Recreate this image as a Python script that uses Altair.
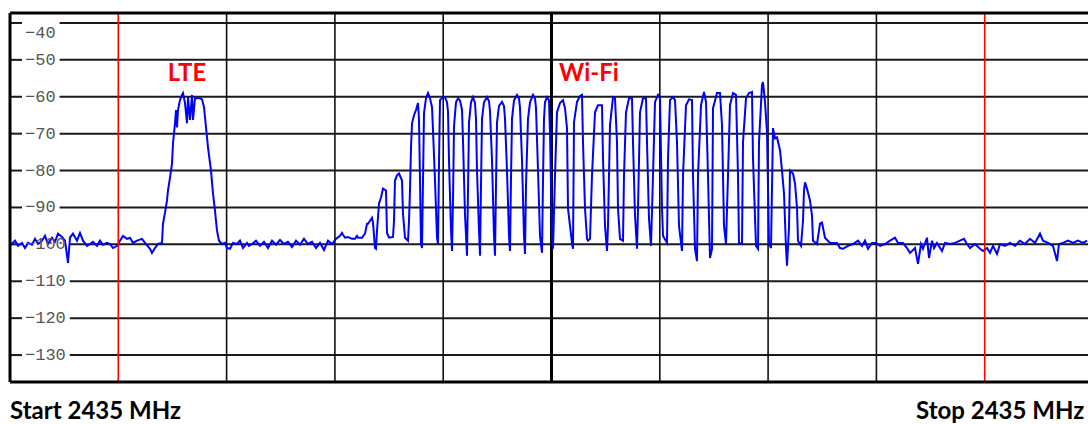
import altair as alt
import pandas as pd

# ---- trace pieces (sweep point index, level in dBm) ----
left_pt = [0, 2, 5, 8, 12, 15, 18, 22, 25, 28, 32, 35, 38, 42, 45, 48, 52, 55, 58, 60, 63, 67, 70, 73, 77, 80, 83, 87,
           90, 93, 97, 100, 103, 107, 110, 113, 117, 120, 123, 127, 132, 135, 140, 142, 145, 148, 152]
left_db = [-99.6, -99.9, -99.0, -100.4, -99.6, -101.0, -99.6, -100.1, -98.5, -99.9, -99.0, -97.7, -99.9, -98.2, -99.3,
           -97.1, -98.0, -99.0, -105.0, -98.2, -97.1, -99.0, -96.9, -99.0, -100.4, -99.9, -99.3, -100.4, -99.0, -100.1,
           -99.6, -99.9, -101.0, -100.4, -99.0, -97.7, -98.5, -98.2, -99.6, -99.0, -98.5, -99.6, -101.2, -102.3, -101.0,
           -99.9, -99.6]

lte_pt = [153, 155, 157, 158, 160, 162, 163, 165, 166, 167, 168, 170, 172, 173, 175, 177, 178, 180, 182, 183, 185, 187,
          190, 192, 194, 196, 198, 201, 203, 205, 207, 209, 212, 215, 217, 220, 223, 227, 230, 233, 237, 239]
lte_db = [-94.4, -91.4, -88.1, -85.4, -81.9, -78.1, -72.6, -67.2, -63.6, -68.3, -63.6, -60.9, -59.5, -59.0, -61.7, -67.2,
          -60.1, -66.3, -59.5, -66.3, -60.4, -60.4, -60.4, -60.7, -62.8, -68.3, -73.7, -80.0, -86.2, -90.9, -96.3, -99.0,
          -99.9, -99.6, -101.0, -101.2, -99.6, -99.9, -99.0, -101.0, -99.6, -100.4]

gap_pt = [242, 246, 250, 254, 258, 262, 266, 270, 274, 278, 282, 286, 290, 294, 298, 302, 306, 310, 314, 318, 322, 326]
gap_db = [-99.9, -99.0, -100.4, -99.3, -101.0, -99.0, -100.1, -98.8, -99.9, -99.3, -100.7, -99.0, -100.1, -98.5, -99.9,
          -99.3, -101.0, -99.6, -101.5, -99.0, -99.9, -98.5]

wifi_a_pt = [330, 332, 333, 335, 338, 342, 345, 347, 348, 352, 355, 357, 358, 362, 363, 365, 366, 367, 369, 371, 373,
             376, 377, 379, 383, 384, 385, 387, 389, 392, 393, 395, 398, 399, 400, 401, 402, 404, 406, 408, 409, 410,
             411, 412, 413, 414, 416, 418, 420, 422, 423, 425, 427, 428, 429, 430, 433]
wifi_a_db = [-97.7, -96.9, -97.4, -98.2, -98.0, -98.5, -98.5, -97.7, -98.2, -98.2, -97.1, -94.4, -94.4, -92.8, -94.1,
             -101.0, -101.2, -96.3, -88.9, -87.3, -84.9, -85.4, -96.9, -98.2, -98.0, -93.6, -82.7, -81.3, -80.8, -82.7,
             -91.7, -98.2, -99.0, -93.6, -85.4, -73.7, -67.2, -65.0, -63.6, -61.7, -66.3, -82.7, -99.9, -101.0, -82.7,
             -64.4, -60.4, -59.0, -60.4, -62.8, -69.1, -82.7, -98.2, -99.9, -78.1, -60.9, -60.1]

wifi_b_pt = [435, 437, 438, 439, 441, 442, 443, 444, 446, 448, 450, 452, 453, 455, 457, 458, 459, 461, 463, 465, 466,
             467, 469, 470, 471, 472, 474, 477, 479, 480, 482, 484, 485, 486, 487, 489, 492, 494, 495, 497, 499, 500,
             501, 502, 504, 507, 509, 510, 512, 514, 515, 516, 518, 520, 523, 525, 526, 528, 530, 532, 533, 534, 535,
             537, 539, 540, 542, 543]
wifi_b_db = [-60.1, -61.5, -64.0, -77.2, -96.3, -101.8, -88.0, -68.0, -61.5, -60.4, -61.0, -63.5, -72.0, -92.0, -103.1,
             -85.4, -67.0, -61.5, -60.1, -61.7, -66.0, -80.0, -96.3, -103.1, -84.0, -66.0, -61.5, -60.1, -61.2, -64.0,
             -77.2, -97.7, -103.1, -84.0, -67.0, -62.5, -61.4, -62.5, -66.0, -80.0, -97.7, -101.8, -82.0, -66.0, -61.0,
             -59.5, -60.5, -63.0, -77.2, -97.7, -102.6, -84.0, -66.0, -61.5, -59.5, -60.5, -63.0, -80.0, -97.7, -102.3,
             -82.7, -66.0, -61.5, -60.1, -60.9, -70.0, -97.7, -101.2]

wifi_c_pt = [545, 547, 550, 553, 555, 557, 558, 562, 563, 564, 567, 570, 572, 573, 575, 577, 578, 580, 582, 585, 588,
             592, 593, 595, 597, 598, 600, 603, 605, 607, 608, 610, 613, 614, 616, 619, 622, 623, 625, 627, 628, 630,
             633, 636, 637, 639, 641, 643, 645, 648, 650]
wifi_c_db = [-81.3, -64.2, -61.7, -60.9, -63.1, -68.5, -90.3, -99.6, -101.2, -66.9, -61.4, -59.8, -59.5, -72.3, -90.3,
             -98.5, -99.0, -98.5, -81.3, -64.2, -62.3, -62.3, -76.7, -95.0, -101.8, -95.0, -67.7, -60.1, -60.4, -72.3,
             -90.3, -98.5, -99.0, -81.3, -64.2, -60.4, -60.4, -72.3, -92.2, -101.2, -90.3, -64.2, -60.4, -60.4, -72.3,
             -93.1, -100.4, -81.3, -61.4, -59.5, -60.4]

wifi_d_pt = [652, 653, 657, 658, 660, 663, 665, 667, 669, 672, 673, 676, 679, 682, 683, 685, 687, 688, 691, 694, 696,
             698, 700, 702, 703, 707, 710, 712, 714, 716, 718, 720, 723, 726, 728, 729, 732, 733, 736, 739, 742, 743,
             746, 748, 749, 752, 753, 755, 757, 759, 761, 763, 765]
wifi_d_db = [-90.3, -97.7, -99.6, -76.7, -60.9, -60.1, -60.9, -72.3, -95.0, -101.8, -81.3, -62.3, -60.7, -60.9, -81.3,
             -101.2, -104.5, -81.3, -62.3, -58.7, -61.4, -81.3, -103.7, -101.2, -63.1, -59.0, -59.0, -67.7, -95.0,
             -99.9, -81.3, -62.3, -59.0, -59.5, -81.3, -99.6, -99.9, -72.3, -60.4, -59.0, -58.7, -76.7, -100.4, -101.2,
             -72.3, -56.8, -56.0, -61.4, -69.6, -99.6, -101.0, -68.5, -71.3]

tail_pt = [767, 770, 772, 774, 776, 777, 779, 780, 783, 785, 787, 788, 791, 793, 794, 795, 797, 800, 802, 803, 807,
           810, 812, 815, 820]
tail_db = [-71.0, -74.5, -80.0, -86.2, -101.0, -105.8, -95.5, -80.0, -80.8, -83.5, -90.0, -99.0, -100.4, -93.6, -85.4,
           -83.2, -84.9, -88.1, -92.2, -99.0, -99.9, -94.4, -94.1, -98.2, -99.6]

right_pt = [827, 830, 833, 838, 843, 848, 852, 855, 858, 862, 866, 870, 875, 880, 885, 888, 893, 897, 900, 905, 908,
            911, 913, 917, 919, 922, 924, 927, 932, 935, 940, 945, 950, 954, 957, 960, 965, 970, 973, 977, 980, 983,
            987, 990, 995, 1000, 1005, 1010, 1015, 1020, 1025, 1030, 1033, 1038, 1043, 1047, 1049, 1053, 1058, 1063,
            1068, 1073, 1077]
right_db = [-99.6, -101.0, -101.2, -100.4, -99.9, -99.0, -100.4, -99.0, -101.2, -99.6, -99.6, -100.4, -99.9, -99.0,
            -98.2, -99.6, -99.6, -101.0, -102.3, -101.0, -105.3, -99.9, -101.2, -98.2, -103.7, -99.0, -101.0, -99.6,
            -101.8, -99.6, -99.9, -99.6, -99.0, -98.5, -99.9, -101.0, -99.9, -101.2, -101.8, -101.0, -102.3, -100.4,
            -102.6, -99.9, -100.4, -99.6, -100.4, -99.0, -99.9, -98.5, -99.6, -97.1, -99.0, -99.6, -100.4, -104.5,
            -99.9, -99.6, -99.0, -99.6, -99.0, -99.6, -99.0]

# ---- axis / annotation text ----
grid_levels = [-40, -50, -60, -70, -80, -90, -100, -110, -120, -130]
tick_text = ["\u221240", "\u221250", "\u221260", "\u221270", "\u221280",
             "\u221290", "\u2212100", "\u2212110", "\u2212120", "\u2212130"]
band_names = ["LTE", "Wi-Fi"]
band_point = [177, 579]
band_level = [-53.8, -53.8]
footer_text = ["Start 2435 MHz", "Stop 2435 MHz"]
footer_point = [0, 906]
footer_level = [-147.2, -147.2]
marker_divs = [1, 9]
center_div = 5

# ---- layout constants ----
X_END = 1078
DIV = 108.3
Y_BOTTOM, Y_TOP = -137.3, -37.3
LABEL_FS = 17
LABEL_X = 15

pieces = [(left_pt, left_db), (lte_pt, lte_db), (gap_pt, gap_db), (wifi_a_pt, wifi_a_db),
          (wifi_b_pt, wifi_b_db), (wifi_c_pt, wifi_c_db), (wifi_d_pt, wifi_d_db),
          (tail_pt, tail_db), (right_pt, right_db)]
sweep_point, level_dbm = [], []
for p, d in pieces:
    n = min(len(p), len(d))
    sweep_point += p[:n]
    level_dbm += d[:n]

xs = alt.Scale(domain=[0, X_END], nice=False, zero=False)
ys = alt.Scale(domain=[Y_BOTTOM, Y_TOP], nice=False, zero=False)


def X(f):
    return alt.X(f, type="quantitative", scale=xs, axis=None)


def Y(f):
    return alt.Y(f, type="quantitative", scale=ys, axis=None)


# horizontal grid segments (broken where the tick label sits)
hrows = []
for lv, txt in zip(grid_levels, tick_text):
    gap_end = LABEL_X + len(txt) * LABEL_FS * 0.6 + 4
    hrows.append({"x0": 0, "x1": 12, "y": lv})
    hrows.append({"x0": gap_end, "x1": X_END, "y": lv})
hgrid = alt.Chart(pd.DataFrame(hrows)).mark_rule(color="#1a1a1a", strokeWidth=2).encode(
    x=X("x0"), x2="x1", y=Y("y"))

vrows_black = [{"x": k * DIV, "y0": Y_BOTTOM, "y1": Y_TOP} for k in range(1, 10)
               if k not in marker_divs and k != center_div]
vgrid = alt.Chart(pd.DataFrame(vrows_black)).mark_rule(color="#111111", strokeWidth=1.6).encode(
    x=X("x"), y=Y("y0"), y2="y1")
vcenter = alt.Chart(pd.DataFrame([{"x": center_div * DIV, "y0": Y_BOTTOM, "y1": Y_TOP}])).mark_rule(
    color="#000000", strokeWidth=3).encode(x=X("x"), y=Y("y0"), y2="y1")
vred = alt.Chart(pd.DataFrame([{"x": k * DIV, "y0": Y_BOTTOM, "y1": Y_TOP} for k in marker_divs])).mark_rule(
    color="#ff0000", strokeWidth=1.6).encode(x=X("x"), y=Y("y0"), y2="y1")

trace = alt.Chart(pd.DataFrame({"pt": sweep_point, "dbm": level_dbm})).mark_line(
    color="#0000ff", strokeWidth=2, clip=True).encode(x=X("pt"), y=Y("dbm"))

border_v = alt.Chart(pd.DataFrame([{"x": 0, "y0": Y_BOTTOM, "y1": Y_TOP}])).mark_rule(
    color="#000000", strokeWidth=3).encode(x=X("x"), y=Y("y0"), y2="y1")
border_h = alt.Chart(pd.DataFrame([{"x0": 0, "x1": X_END, "y": Y_TOP},
                                   {"x0": 0, "x1": X_END, "y": Y_BOTTOM}])).mark_rule(
    color="#000000", strokeWidth=3).encode(x=X("x0"), x2="x1", y=Y("y"))

label_levels = [lv if lv != -40 else -42.7 for lv in grid_levels]
ticks = alt.Chart(pd.DataFrame({"x": [LABEL_X] * len(tick_text), "y": label_levels, "t": tick_text})).mark_text(
    align="left", baseline="middle", font="Liberation Mono", fontSize=LABEL_FS, color="#555555").encode(
    x=X("x"), y=Y("y"), text="t:N")

bands = alt.Chart(pd.DataFrame({"x": band_point, "y": band_level, "t": band_names})).mark_text(
    align="center", baseline="middle", font="Lato", fontWeight="bold", fontSize=24, color="#ff0000").encode(
    x=X("x"), y=Y("y"), text="t:N")

footers = alt.Chart(pd.DataFrame({"x": footer_point, "y": footer_level, "t": footer_text})).mark_text(
    align="left", baseline="alphabetic", font="Lato", fontWeight="bold", fontSize=24, color="#000000").encode(
    x=X("x"), y=Y("y"), text="t:N")

chart = alt.layer(hgrid, vgrid, vcenter, trace, vred, border_v, border_h, ticks, bands, footers).properties(
    width=1078, height=369,
    padding={"left": 10, "top": 13, "right": 0, "bottom": 42},
    autosize=alt.AutoSizeParams(type="none"),
    background="#ffffff",
).configure_view(strokeWidth=0)

chart.save("out.html", embed_options={"renderer": "svg", "actions": False})
